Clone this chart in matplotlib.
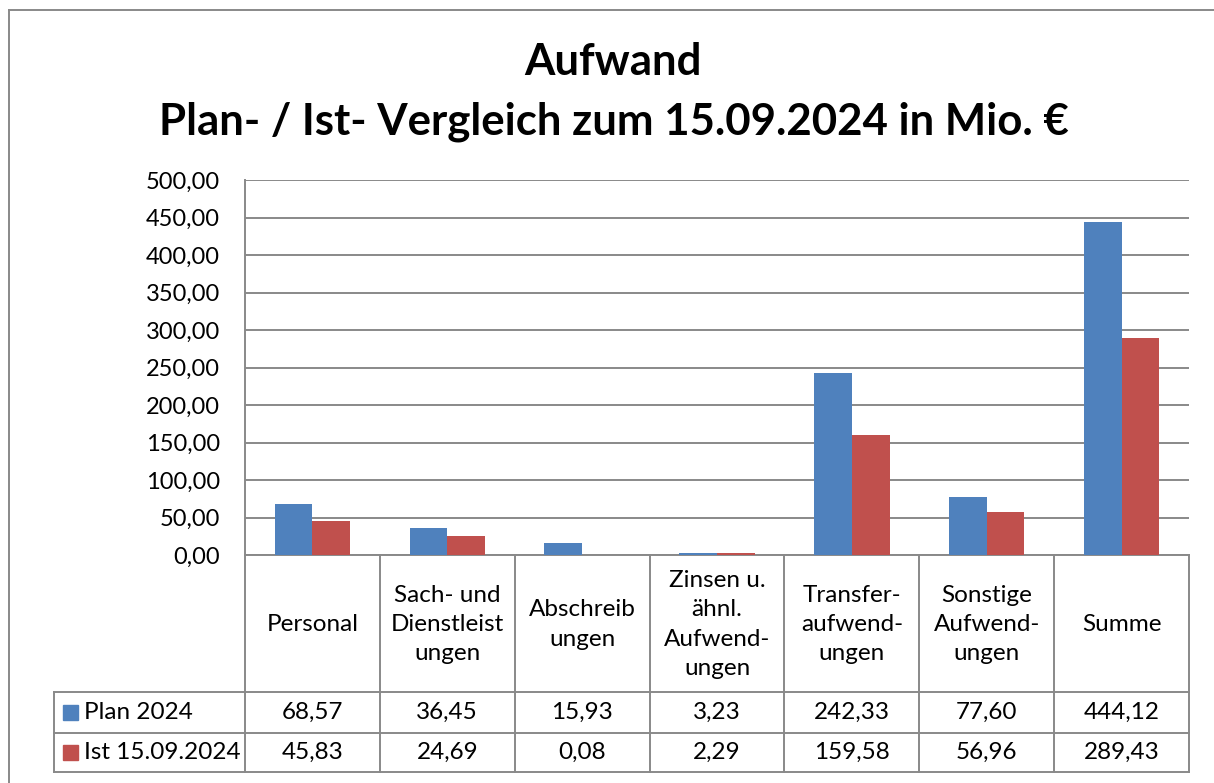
import matplotlib
matplotlib.use("Agg")
import matplotlib.pyplot as plt
import numpy as np
from matplotlib.lines import Line2D
from matplotlib.patches import Rectangle
from matplotlib.ticker import FuncFormatter

# ---- data ----
categories = ["Personal", "Sach- und\nDienstleist\nungen", "Abschreib\nungen",
              "Zinsen u.\nähnl.\nAufwend-\nungen", "Transfer-\naufwend-\nungen",
              "Sonstige\nAufwend-\nungen", "Summe"]
series_names = ["Plan 2024", "Ist 15.09.2024"]
plan_2024 = [68.57, 36.45, 15.93, 3.23, 242.33, 77.60, 444.12]
ist_2024 = [45.83, 24.69, 0.08, 2.29, 159.58, 56.96, 289.43]
title_lines = ["Aufwand", "Plan- / Ist- Vergleich zum 15.09.2024 in Mio. €"]
y_ticks = [0, 50, 100, 150, 200, 250, 300, 350, 400, 450, 500]

colors = ["#4F81BD", "#C0504D"]
grid_c = "#898989"
FONT = ["Lato", "DejaVu Sans"]
plt.rcParams["font.family"] = FONT

W, H = 1214, 783
fig = plt.figure(figsize=(W / 100, H / 100), dpi=100)

def fx(x):
    return x / W

def fy(y):
    return 1 - y / H

# plot area in px
L, R, T, B = 245, 1189, 180, 555
ax = fig.add_axes([fx(L), fy(B), fx(R - L), (B - T) / H])
n = len(categories)
x = np.arange(n)
bw = 0.28
ax.bar(x - bw / 2, plan_2024, bw, color=colors[0], zorder=3)
ax.bar(x + bw / 2, ist_2024, bw, color=colors[1], zorder=3)
ax.set_xlim(-0.5, n - 0.5)
ax.set_ylim(0, 500)
ax.set_yticks(y_ticks)
ax.yaxis.set_major_formatter(FuncFormatter(lambda v, p: f"{v:.2f}".replace(".", ",")))
ax.tick_params(axis="y", length=0, pad=18, labelsize=17)
ax.set_xticks([])
ax.grid(axis="y", color=grid_c, lw=1.4, zorder=0)
for s in ["top", "right"]:
    ax.spines[s].set_visible(False)
for s in ["left", "bottom"]:
    ax.spines[s].set_color(grid_c)
    ax.spines[s].set_linewidth(1.4)

# ---- title ----
fig.text(fx(613), fy(62), title_lines[0], ha="center", va="center",
         fontsize=31.5, fontweight="bold")
fig.text(fx(614), fy(122), title_lines[1], ha="center", va="center",
         fontsize=31.5, fontweight="bold")

# ---- outer border ----
lw = 1.4
fig.add_artist(Line2D([fx(9), fx(9)], [fy(10), fy(783)], color=grid_c, lw=lw))
fig.add_artist(Line2D([fx(9), fx(1214)], [fy(10), fy(10)], color=grid_c, lw=lw))

# ---- data table ----
colw = (R - L) / n
bounds = [L + i * colw for i in range(n + 1)]
rows_y = [B, 692, 733, 772]
LEG_L = 54
for bx in bounds:
    fig.add_artist(Line2D([fx(bx), fx(bx)], [fy(B), fy(772)], color=grid_c, lw=lw))
fig.add_artist(Line2D([fx(LEG_L), fx(LEG_L)], [fy(692), fy(772)], color=grid_c, lw=lw))
for ry in rows_y[1:]:
    fig.add_artist(Line2D([fx(LEG_L), fx(R)], [fy(ry), fy(ry)], color=grid_c, lw=lw))

for i, cat in enumerate(categories):
    cx = (bounds[i] + bounds[i + 1]) / 2
    fig.text(fx(cx), fy((B + 692) / 2 + 1), cat, ha="center", va="center",
             fontsize=17.5, linespacing=1.5)

for r, (vals, name, col) in enumerate(zip([plan_2024, ist_2024], series_names, colors)):
    cy = (rows_y[r + 1] + rows_y[r + 2]) / 2
    for i, v in enumerate(vals):
        cx = (bounds[i] + bounds[i + 1]) / 2
        fig.text(fx(cx), fy(cy), f"{v:.2f}".replace(".", ","), ha="center",
                 va="center", fontsize=17.5)
    fig.add_artist(Rectangle((fx(63), fy(cy + 7)), fx(15), 15 / H, color=col,
                             transform=fig.transFigure))
    fig.text(fx(84), fy(cy), name, ha="left", va="center", fontsize=17.5)

fig.savefig("out.png", dpi=100)
